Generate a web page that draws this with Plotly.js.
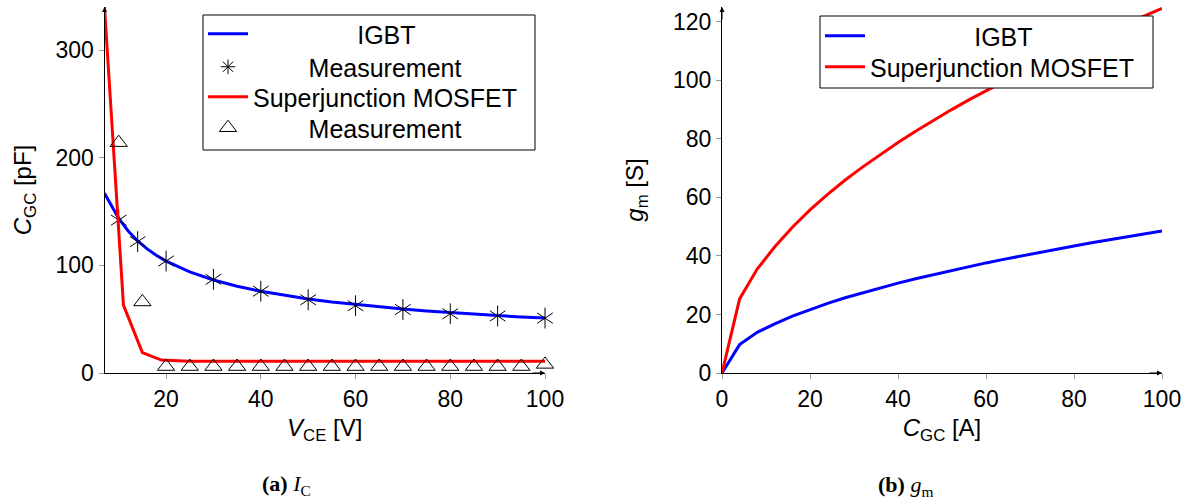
<!DOCTYPE html>
<html>
<head>
<meta charset="utf-8">
<script src="https://cdn.plot.ly/plotly-3.0.1.min.js"></script>
<style>html,body{margin:0;padding:0;background:#fff;}#chart{width:1187px;height:503px;}</style>
</head>
<body>
<div id="chart"></div>
<script>
// ---- Data ----
// (a) gate-collector capacitance vs. V_CE
const vceIgbt = [7, 8, 9, 10, 12, 14, 16, 18, 20, 25, 30, 35, 40, 45, 50, 55, 60, 65, 70, 75, 80, 85, 90, 95, 100];
const cgcIgbt = [167, 159, 151, 143.5, 132, 122.7, 115.3, 109.2, 104, 94, 86.4, 80.6, 75.9, 72, 68.7, 65.9, 63.5, 61.3, 59.4, 57.6, 56, 54.6, 53.3, 52.1, 51];
const vceIgbtMeas = [10, 14, 20, 30, 40, 50, 60, 70, 80, 90, 100];
const cgcIgbtMeas = [142, 122, 104, 87, 76, 68, 62.5, 59, 55, 53, 51];
const vceSj = [7, 11, 15, 19, 25, 30, 40, 50, 60, 70, 80, 90, 100];
const cgcSj = [340, 63, 19, 12, 11, 11, 11, 11, 11, 11, 11, 11, 11];
const vceSjMeas = [10, 15, 20, 25, 30, 35, 40, 45, 50, 55, 60, 65, 70, 75, 80, 85, 90, 95, 100];
const cgcSjMeas = [214, 66, 6, 6, 6, 6, 6, 6, 6, 6, 6, 6, 6, 6, 6, 6, 6, 6, 8];
// (b) transconductance vs. current
const icB = [0, 4, 8, 12, 16, 20, 24, 28, 32, 36, 40, 44, 48, 52, 56, 60, 64, 68, 72, 76, 80, 84, 88, 92, 96, 100];
const gmIgbt = [0, 9.7, 13.9, 16.8, 19.4, 21.7, 23.8, 25.7, 27.4, 29.1, 30.7, 32.2, 33.6, 35, 36.3, 37.6, 38.8, 40, 41.2, 42.3, 43.4, 44.5, 45.5, 46.5, 47.5, 48.5];
const gmSj = [0, 25.3, 35.5, 43.1, 49.8, 55.7, 61, 65.9, 70.4, 74.7, 78.7, 82.6, 86.3, 89.8, 93.2, 96.4, 99.6, 102.7, 105.6, 108.5, 111.4, 114.1, 116.8, 119.4, 122, 124.5];
// labels
const nameIgbt = 'IGBT';
const nameSj = 'Superjunction MOSFET';
const nameMeas = 'Measurement';
const ticksA = [20, 40, 60, 80, 100];
const ticksAy = [0, 100, 200, 300];
const ticksB = [0, 20, 40, 60, 80, 100];
const ticksBy = [0, 20, 40, 60, 80, 100, 120];

// ---- Styling ----
const W = 1187, H = 503;
const BLUE = '#0000ff', RED = '#ff0000';
const FONT = 'Liberation Sans, Arial, sans-serif';
const SERIF = 'Liberation Serif, Times New Roman, serif';
const pad = n => '\u00A0'.repeat(n);

const traces = [
  {x: vceIgbt, y: cgcIgbt, type: 'scatter', mode: 'lines', name: pad(15) + nameIgbt,
   line: {color: BLUE, width: 3}, xaxis: 'x', yaxis: 'y', legend: 'legend'},
  // star markers: two overlaid Y symbols form a six-armed star
  {x: vceIgbtMeas, y: cgcIgbtMeas, type: 'scatter', mode: 'markers', name: nameMeas,
   marker: {symbol: 'y-up-open', size: 13, color: 'black', line: {color: 'black', width: 1}},
   xaxis: 'x', yaxis: 'y', showlegend: false, cliponaxis: false},
  {x: vceIgbtMeas, y: cgcIgbtMeas, type: 'scatter', mode: 'markers', name: nameMeas,
   marker: {symbol: 'y-down-open', size: 13, color: 'black', line: {color: 'black', width: 1}},
   xaxis: 'x', yaxis: 'y', showlegend: false, cliponaxis: false},
  // legend-only entry for the star measurement
  {x: [null], y: [null], type: 'scatter', mode: 'markers', name: pad(8) + nameMeas,
   marker: {symbol: 'asterisk-open', size: 12, color: 'black', line: {color: 'black', width: 1}},
   xaxis: 'x', yaxis: 'y', legend: 'legend2'},
  {x: vceSj, y: cgcSj, type: 'scatter', mode: 'lines', name: nameSj,
   line: {color: RED, width: 3}, xaxis: 'x', yaxis: 'y', legend: 'legend3'},
  {x: vceSjMeas, y: cgcSjMeas, type: 'scatter', mode: 'markers', name: pad(8) + nameMeas,
   marker: {symbol: 'triangle-up-open', size: 15, color: 'black', line: {color: 'black', width: 1}},
   xaxis: 'x', yaxis: 'y', legend: 'legend4', cliponaxis: false},
  {x: icB, y: gmIgbt, type: 'scatter', mode: 'lines', name: pad(15) + nameIgbt,
   line: {color: BLUE, width: 3}, xaxis: 'x2', yaxis: 'y2', legend: 'legend5'},
  {x: icB, y: gmSj, type: 'scatter', mode: 'lines', name: nameSj,
   line: {color: RED, width: 3}, xaxis: 'x2', yaxis: 'y2', legend: 'legend6'}
];

const axisCommon = {
  showline: true, linecolor: 'black', linewidth: 1, showgrid: false, zeroline: false,
  ticks: 'outside', ticklen: 5, tickcolor: '#999', tickwidth: 1,
  tickfont: {family: FONT, size: 23, color: 'black'}, fixedrange: true
};
const yDom = [130 / H, 496 / H];

const legendRow = (leftPx, rowPx) => ({
  bgcolor: 'rgba(0,0,0,0)', borderwidth: 0,
  font: {family: FONT, size: 25, color: 'black'},
  xanchor: 'left', yanchor: 'middle', itemwidth: 40,
  x: leftPx / W, y: 1 - rowPx / H,
  itemclick: false, itemdoubleclick: false
});

const box = (x0, y0, x1, y1) => ({
  type: 'rect', xref: 'paper', yref: 'paper', layer: 'above',
  x0: x0 / W, x1: x1 / W, y0: 1 - y1 / H, y1: 1 - y0 / H,
  fillcolor: 'white', line: {color: 'black', width: 1}
});

const arrow = (xref, yref, x, y, ax, ay) => ({
  xref: xref, yref: yref, x: x, y: y, ax: ax, ay: ay, text: '', showarrow: true,
  arrowhead: 2, arrowsize: 1, arrowwidth: 1, arrowcolor: 'black'
});

const layout = {
  width: W, height: H,
  margin: {l: 0, r: 0, t: 0, b: 0},
  paper_bgcolor: 'white', plot_bgcolor: 'white',
  font: {family: FONT, size: 24, color: 'black'},
  xaxis: Object.assign({}, axisCommon, {
    domain: [104.5 / W, 545 / W], range: [7, 100], tickvals: ticksA, anchor: 'y',
    title: {text: '<i>V</i><sub>CE</sub> [V]', font: {family: FONT, size: 24}, standoff: 8}
  }),
  yaxis: Object.assign({}, axisCommon, {
    domain: yDom, range: [0, 340], tickvals: ticksAy, anchor: 'x',
    title: {text: '<i>C</i><sub>GC</sub> [pF]', font: {family: FONT, size: 24}, standoff: 17}
  }),
  xaxis2: Object.assign({}, axisCommon, {
    domain: [722 / W, 1162 / W], range: [0, 100], tickvals: ticksB, anchor: 'y2',
    title: {text: '<i>C</i><sub>GC</sub> [A]', font: {family: FONT, size: 24}, standoff: 8}
  }),
  yaxis2: Object.assign({}, axisCommon, {
    domain: yDom, range: [0, 125], tickvals: ticksBy, anchor: 'x2',
    title: {text: '<i>g</i><sub>m</sub> [S]', font: {family: FONT, size: 24}, standoff: 22}
  }),
  legend: legendRow(203, 34),
  legend2: legendRow(203, 67),
  legend3: legendRow(203, 97),
  legend4: legendRow(203, 128),
  legend5: legendRow(820, 36),
  legend6: legendRow(820, 67),
  showlegend: true,
  shapes: [box(203, 15, 535, 150), box(820, 16, 1153, 88)],
  annotations: [
    arrow('x', 'y', 7, 340, 0, 14),
    arrow('x', 'y', 100, 0, -14, 0),
    arrow('x2', 'y2', 0, 125, 0, 14),
    arrow('x2', 'y2', 100, 0, -14, 0),
    {xref: 'paper', yref: 'paper', x: 286 / W, y: 1 - 485 / H, xanchor: 'center', yanchor: 'middle',
     showarrow: false, text: '<b>(a)</b> <i>I</i><sub>C</sub>',
     font: {family: SERIF, size: 22, color: 'black'}},
    {xref: 'paper', yref: 'paper', x: 905 / W, y: 1 - 486 / H, xanchor: 'center', yanchor: 'middle',
     showarrow: false, text: '<b>(b)</b> <i>g</i><sub>m</sub>',
     font: {family: SERIF, size: 22, color: 'black'}}
  ]
};

Plotly.newPlot('chart', traces, layout, {staticPlot: true, displayModeBar: false});
</script>
</body>
</html>
